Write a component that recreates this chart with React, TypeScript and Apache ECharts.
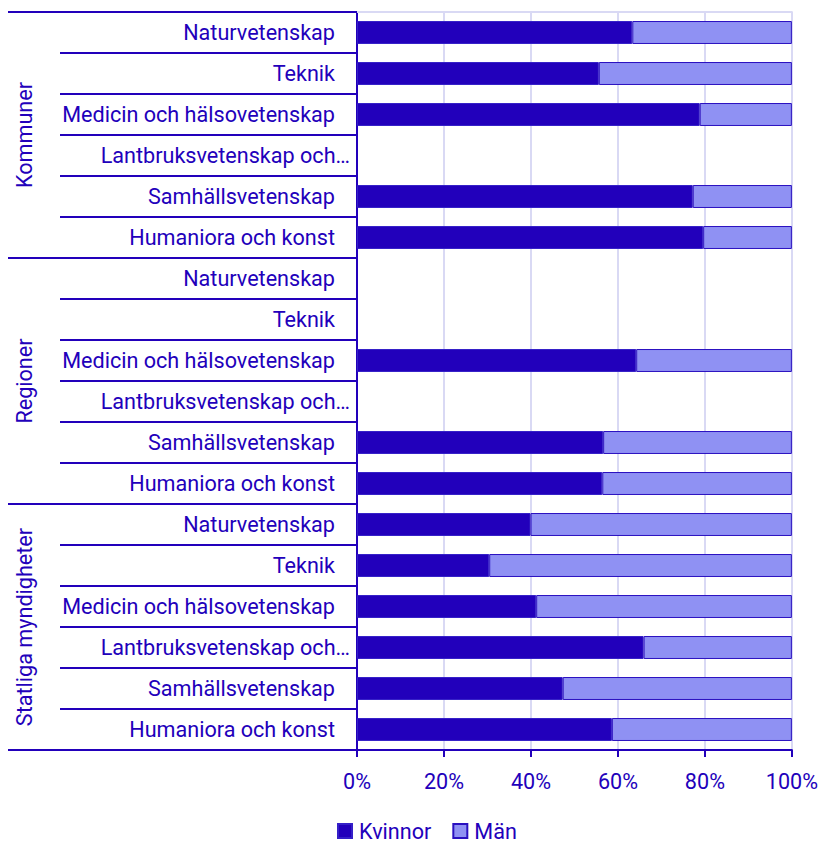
import React, { useEffect, useRef } from 'react';
import * as echarts from 'echarts';

const groups = ['Kommuner', 'Regioner', 'Statliga myndigheter'];
const categories = [
  'Naturvetenskap',
  'Teknik',
  'Medicin och hälsovetenskap',
  'Lantbruksvetenskap och…',
  'Samhällsvetenskap',
  'Humaniora och konst',
];
const xTicks = [0, 20, 40, 60, 80, 100];

// Share (%) per category, in order: Kommuner (6), Regioner (6), Statliga myndigheter (6)
const kvinnor = [
  63.3, 55.6, 78.8, null, 77.2, 79.6,
  null, null, 64.2, null, 56.6, 56.4,
  39.9, 30.4, 41.2, 65.9, 47.3, 58.6,
];
const man = [
  36.7, 44.4, 21.2, null, 22.8, 20.4,
  null, null, 35.8, null, 43.4, 43.6,
  60.1, 69.6, 58.8, 34.1, 52.7, 41.4,
];

const DARK = '#2200BB';
const LIGHT = '#8F91F3';
const GRID = '#D9D9F4';
const FONT = 'Roboto';
const FS = 21.6;

export default function App() {
  const ref = useRef<HTMLDivElement>(null);
  useEffect(() => {
    document.body.style.margin = '0';
    const chart = echarts.init(ref.current!, null, { renderer: 'svg' });
    const labels = groups.flatMap(() => categories);
    chart.setOption({
      animation: false,
      textStyle: { fontFamily: FONT },
      grid: { left: 357, right: 28, top: 12, bottom: 94, containLabel: false },
      legend: {
        left: 332,
        top: 815,
        icon: 'rect',
        itemWidth: 14,
        itemHeight: 14,
        itemGap: 21,
        data: ['Kvinnor', 'Män'],
        textStyle: { color: DARK, fontSize: FS, fontFamily: FONT, padding: [0, 0, 0, 2] },
      },
      xAxis: [
        {
          type: 'value',
          min: xTicks[0],
          max: xTicks[xTicks.length - 1],
          interval: 20,
          position: 'bottom',
          axisLine: { show: true, lineStyle: { color: DARK, width: 2 } },
          axisTick: { show: true, length: 7, lineStyle: { color: DARK, width: 2 } },
          axisLabel: { formatter: '{value}%', color: DARK, fontSize: FS, fontFamily: FONT, margin: 20 },
          splitLine: { show: true, lineStyle: { color: GRID, width: 2 } },
        },
        {
          type: 'value',
          min: xTicks[0],
          max: xTicks[xTicks.length - 1],
          position: 'top',
          axisLine: { show: true, lineStyle: { color: GRID, width: 2 } },
          axisTick: { show: false },
          axisLabel: { show: false },
          splitLine: { show: false },
        },
      ],
      yAxis: [
        {
          type: 'category',
          inverse: true,
          position: 'left',
          data: labels,
          axisLine: { show: true, lineStyle: { color: DARK, width: 2 } },
          axisTick: { show: true, length: 297, lineStyle: { color: DARK, width: 2 } },
          axisLabel: {
            interval: 0,
            margin: 7,
            formatter: (v: string) => (v.endsWith('…') ? `{b|${v}}` : `{a|${v}}`),
            rich: {
              a: { color: DARK, fontSize: FS, fontFamily: FONT, padding: [0, 15, 0, 0] },
              b: { color: DARK, fontSize: FS, fontFamily: FONT },
            },
          },
          splitLine: { show: false },
        },
        {
          type: 'category',
          inverse: true,
          position: 'left',
          data: groups,
          axisLine: { show: false },
          axisTick: { show: true, length: 349, lineStyle: { color: DARK, width: 2 } },
          axisLabel: { interval: 0, rotate: 90, margin: 322, color: DARK, fontSize: FS, fontFamily: FONT },
          splitLine: { show: false },
        },
      ],
      series: [
        {
          name: 'Kvinnor',
          type: 'bar',
          stack: 'total',
          xAxisIndex: 0,
          yAxisIndex: 0,
          data: kvinnor,
          barWidth: '56%',
          itemStyle: { color: DARK, borderColor: '#3520C8', borderWidth: 1 },
        },
        {
          name: 'Män',
          type: 'bar',
          stack: 'total',
          xAxisIndex: 0,
          yAxisIndex: 0,
          data: man,
          barWidth: '56%',
          itemStyle: { color: LIGHT, borderColor: '#2A10C0', borderWidth: 1 },
        },
      ],
    });
    return () => chart.dispose();
  }, []);
  return <div ref={ref} style={{ width: 821, height: 844 }} />;
}
